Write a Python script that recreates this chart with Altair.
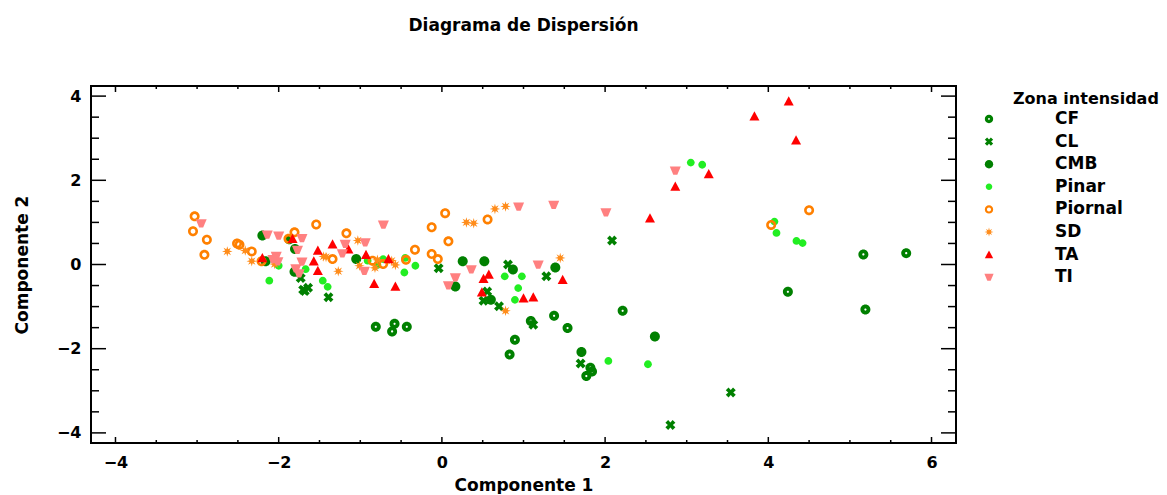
import altair as alt
import pandas as pd
import numpy as np

# ---------------- data ----------------
series = ["CF", "CL", "CMB", "Pinar", "Piornal", "SD", "TA", "TI"]
colors = ["#008000", "#008000", "#008000", "#22ee22", "#ff8000", "#ff8c1a", "#ff0000", "#ff8080"]

cf_x = [-0.81, -0.58, -0.61, -0.43, 1.09, 1.375, 1.54, 0.895, 0.83, 2.215, 1.82, 1.84, 1.77, 4.24, 5.19, 5.165, 5.69]
cf_y = [-1.48, -1.41, -1.59, -1.48, -1.34, -1.22, -1.51, -1.79, -2.14, -1.10, -2.45, -2.54, -2.65, -0.65, -1.07, 0.24, 0.27]

cl_x = [-1.73, -1.70, -1.64, -1.68, -1.39, -0.04, 0.81, 1.28, 0.555, 0.51, 0.70, 1.12, 1.70, 2.80, 3.54, 2.085]
cl_y = [-0.32, -0.60, -0.55, -0.63, -0.78, -0.09, 0.00, -0.28, -0.64, -0.86, -0.99, -1.43, -2.35, -3.81, -3.04, 0.57]

cmb_x = [-2.20, -2.16, -1.87, -1.80, -1.806, -1.05, 0.255, 0.52, 0.165, 0.87, 1.39, 0.60, 1.71, 2.61]
cmb_y = [0.69, 0.075, 0.60, 0.37, -0.17, 0.13, 0.075, 0.075, -0.52, -0.12, -0.07, -0.84, -2.08, -1.71]

pinar_x = [-2.115, -2.00, -1.67, -1.46, -1.40, -0.91, -0.72, -0.79, -0.45, -0.46, -0.325, 0.77, 0.98, 0.935, 0.895, 2.04, 2.525, 3.05, 3.19, 4.075, 4.10, 4.345, 4.42]
pinar_y = [-0.385, -0.03, -0.11, -0.385, -0.53, 0.09, 0.13, -0.01, 0.155, -0.19, -0.03, -0.28, -0.28, -0.56, -0.84, -2.29, -2.37, 2.42, 2.37, 1.02, 0.75, 0.56, 0.51]

piornal_x = [-3.03, -3.05, -2.88, -2.91, -2.51, -2.48, -2.33, -2.21, -1.806, -1.88, -1.54, -1.17, -1.34, -0.85, -0.72, -0.44, -0.33, -0.125, 0.04, 0.08, -0.125, -0.05, 0.56, 4.035, 4.50]
piornal_y = [1.145, 0.79, 0.59, 0.23, 0.50, 0.47, 0.31, 0.075, 0.765, 0.61, 0.95, 0.74, 0.13, 0.09, 0.01, 0.11, 0.35, 0.885, 1.22, 0.55, 0.25, 0.13, 1.07, 0.94, 1.29]

sd_x = [-2.63, -2.41, -2.33, -2.05, -1.45, -1.42, -1.27, -1.03, -1.01, -0.79, -0.82, -0.615, -0.57, 0.30, 0.39, 0.65, 0.78, 1.45, 0.78]
sd_y = [0.31, 0.33, 0.08, 0.01, 0.19, 0.18, -0.16, 0.57, -0.03, 0.11, -0.08, 0.09, -0.01, 1.00, 0.98, 1.32, 1.38, 0.155, -1.10]

ta_x = [-2.20, -1.83, -1.52, -1.57, -1.52, -1.34, -1.145, -0.93, -0.655, -0.83, -0.57, 0.51, 0.575, 0.49, 1.00, 1.12, 1.48, 2.55, 2.86, 3.27, 3.83, 4.25, 4.34]
ta_y = [0.155, 0.61, 0.33, 0.075, -0.15, 0.48, 0.36, 0.23, 0.13, -0.46, -0.52, -0.34, -0.24, -0.66, -0.80, -0.78, -0.36, 1.10, 1.85, 2.15, 3.52, 3.88, 2.95]

ti_x = [-2.95, -2.14, -2.00, -1.715, -1.77, -2.03, -2.07, -2.01, -1.715, -1.79, -1.75, -1.185, -1.22, -0.717, -0.94, -0.95, 0.36, 0.165, 0.08, 0.94, 1.37, 1.18, 2.01, 2.86]
ti_y = [0.98, 0.71, 0.69, 0.63, 0.35, 0.21, 0.13, 0.075, 0.07, -0.09, -0.21, 0.49, 0.27, 0.948, 0.53, -0.15, -0.11, -0.305, -0.49, 1.38, 1.42, 0.0, 1.24, 2.23]

x_labels = [-4, -2, 0, 2, 4, 6]
y_labels = [-4, -2, 0, 2, 4]
x_minor = [-3.5, -3, -2.5, -1.5, -1, -0.5, 0.5, 1, 1.5, 2.5, 3, 3.5, 4.5, 5, 5.5]
y_minor = [-3.5, -3, -2.5, -1.5, -1, -0.5, 0.5, 1, 1.5, 2.5, 3, 3.5]

x_domain = [-4.3, 6.3]
y_domain = [-4.24, 4.24]

# ---------------- build tables ----------------
all_x = [cf_x, cl_x, cmb_x, pinar_x, piornal_x, sd_x, ta_x, ti_x]
all_y = [cf_y, cl_y, cmb_y, pinar_y, piornal_y, sd_y, ta_y, ti_y]
rows = []
for s, xs_, ys_ in zip(series, all_x, all_y):
    for a, b in zip(xs_, ys_):
        rows.append({"c1": a, "c2": b, "zona": s, "idx": len(rows)})
df = pd.DataFrame(rows)


def circ(r, sweep=1):
    return f"M{-r},0A{r},{r},0,1,{sweep},{r},0A{r},{r},0,1,{sweep},{-r},0Z"


star_pts = []
for k in range(16):
    ang = np.pi * k / 8
    rr = 1.05 if k % 2 == 0 else 0.45
    star_pts.append(f"{rr*np.cos(ang):.3f},{rr*np.sin(ang):.3f}")
star = "M" + "L".join(star_pts) + "Z"

shapes = [
    circ(1) + circ(0.22, 0),                                   # CF
    "M-1,-0.45L-0.45,-1L0,-0.5L0.45,-1L1,-0.45L0.5,0L1,0.45L0.45,1L0,0.5L-0.45,1L-1,0.45L-0.5,0Z",  # CL
    circ(1),                                                   # CMB
    circ(0.78),                                                # Pinar
    circ(1) + circ(0.48, 0),                                   # Piornal
    star,                                                      # SD
    "M0,-1L1,0.85L-1,0.85Z",                                   # TA
    "M-1.1,-0.8L1.1,-0.8L0.4,0.85L-0.4,0.85Z",                 # TI
]

FONT = "DejaVu Sans"
W, H = 865, 357

xs = alt.Scale(domain=x_domain, nice=False, zero=False)
ys = alt.Scale(domain=y_domain, nice=False, zero=False)

xaxis = alt.Axis(values=x_labels, ticks=False, tickSize=0, domain=False, grid=False,
                 labelFont=FONT, labelFontWeight="bold", labelFontSize=16, labelColor="black",
                 labelPadding=11, title="Componente 1", titleFont=FONT, titleFontWeight="bold",
                 titleFontSize=17, titleColor="black", titlePadding=7.5)
yaxis = alt.Axis(values=y_labels, ticks=False, tickSize=0, domain=False, grid=False,
                 labelFont=FONT, labelFontWeight="bold", labelFontSize=16, labelColor="black",
                 labelPadding=10, title="Componente 2", titleFont=FONT, titleFontWeight="bold",
                 titleFontSize=17, titleColor="black", titlePadding=25)

points = alt.Chart(df).mark_point(filled=True, opacity=1, size=100, strokeWidth=0).encode(
    x=alt.X("c1:Q", scale=xs, axis=xaxis),
    y=alt.Y("c2:Q", scale=ys, axis=yaxis),
    color=alt.Color("zona:N", scale=alt.Scale(domain=series, range=colors),
                    legend=alt.Legend(title="Zona intensidad")),
    shape=alt.Shape("zona:N", scale=alt.Scale(domain=series, range=shapes),
                    legend=alt.Legend(title="Zona intensidad")),
    order=alt.Order("idx:Q"),
)

xmaj = pd.DataFrame({"c1": x_labels})
xmin = pd.DataFrame({"c1": x_minor})
ymaj = pd.DataFrame({"c2": y_labels})
ymin = pd.DataFrame({"c2": y_minor})


def xticks(d, ln):
    bot = alt.Chart(d).mark_rule(color="black", strokeWidth=1.5).encode(
        x=alt.X("c1:Q", scale=xs, axis=xaxis), y=alt.value(H), y2=alt.value(H - ln))
    top = alt.Chart(d).mark_rule(color="black", strokeWidth=1.5).encode(
        x=alt.X("c1:Q", scale=xs, axis=xaxis), y=alt.value(0), y2=alt.value(ln))
    return [bot, top]


def yticks(d, ln):
    lef = alt.Chart(d).mark_rule(color="black", strokeWidth=1.5).encode(
        y=alt.Y("c2:Q", scale=ys, axis=yaxis), x=alt.value(0), x2=alt.value(ln))
    rig = alt.Chart(d).mark_rule(color="black", strokeWidth=1.5).encode(
        y=alt.Y("c2:Q", scale=ys, axis=yaxis), x=alt.value(W), x2=alt.value(W - ln))
    return [lef, rig]


layers = [points] + xticks(xmaj, 6) + xticks(xmin, 3) + yticks(ymaj, 15) + yticks(ymin, 8)

chart = alt.layer(*layers).properties(
    width=W, height=H,
    title=alt.TitleParams("Diagrama de Dispersión", font=FONT, fontWeight="bold", fontSize=17,
                          color="black", anchor="middle", offset=50.5),
    padding={"left": 5, "top": 8, "right": 0, "bottom": 0},
).configure_view(
    stroke="black", strokeWidth=2
).configure_legend(
    orient="none", legendX=922, legendY=4.5, padding=0,
    titleFont=FONT, titleFontWeight="bold", titleFontSize=16, titleColor="black", titlePadding=4,
    labelFont=FONT, labelFontWeight="bold", labelFontSize=17, labelColor="black",
    symbolSize=70, symbolStrokeWidth=0, symbolOffset=-32.5, labelOffset=57.5, rowPadding=4.6,
)

chart.save("out.html", embed_options={"renderer": "svg", "actions": False})
